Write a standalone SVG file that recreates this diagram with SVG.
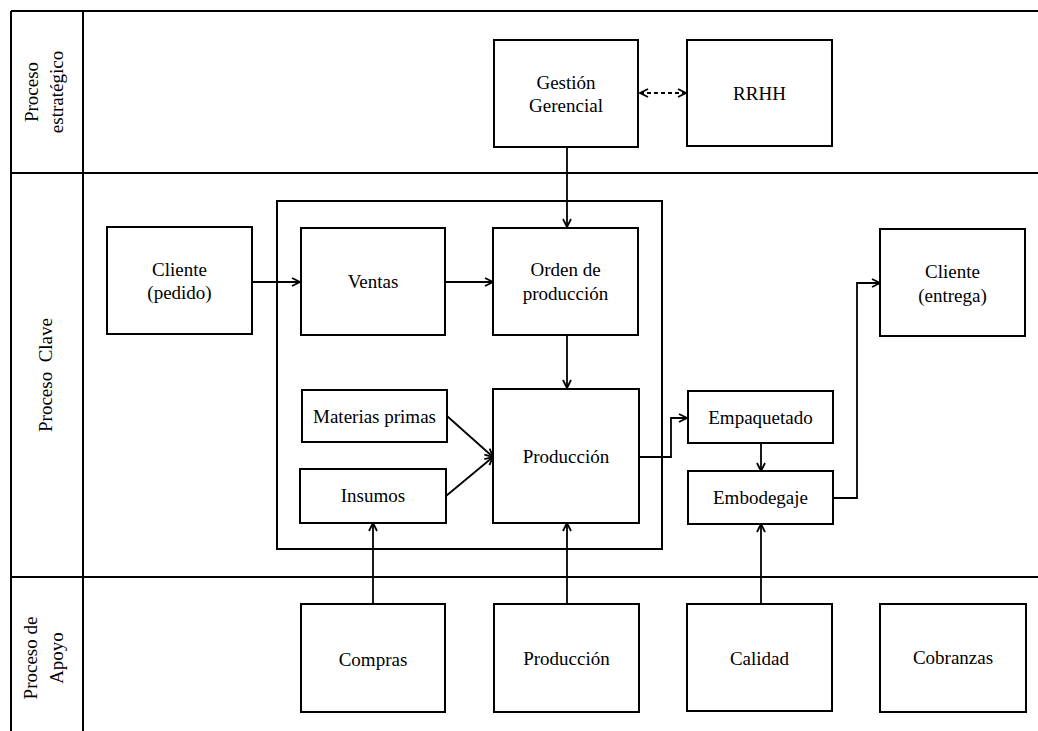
<svg xmlns="http://www.w3.org/2000/svg" width="1038" height="731" viewBox="0 0 1038 731">
  <defs>
    <marker id="arrow" viewBox="0 0 10 10" refX="9" refY="5" markerWidth="10" markerHeight="10" markerUnits="userSpaceOnUse" orient="auto-start-reverse">
      <path d="M1,1 L9,5 L1,9" fill="none" stroke="#000" stroke-width="1.8"/>
    </marker>
    <style>
      .grid { stroke: #000; stroke-width: 2; fill: none; }
      .box { fill: #fff; stroke: #000; stroke-width: 2; }
      .frame { fill: none; stroke: #000; stroke-width: 2; }
      .lbl { font-family: "Liberation Serif", "Times New Roman", serif; font-size: 19px; fill: #000; text-anchor: middle; }
      .edge { fill: none; stroke: #000; stroke-width: 1.8; marker-end: url(#arrow); }
      .dashed { stroke-dasharray: 4 3; marker-start: url(#arrow); }
    </style>
  </defs>

  <rect width="1038" height="731" fill="#fff"/>

  <!-- swimlane grid -->
  <g id="lanes">
    <line class="grid" x1="11" y1="11" x2="1038" y2="11"/>
    <line class="grid" x1="11" y1="173" x2="1038" y2="173"/>
    <line class="grid" x1="11" y1="577" x2="1038" y2="577"/>
    <line class="grid" x1="11" y1="11" x2="11" y2="731"/>
    <line class="grid" x1="83" y1="11" x2="83" y2="731"/>
    <text class="lbl" transform="translate(38,92) rotate(-90)">Proceso</text>
    <text class="lbl" transform="translate(63,92) rotate(-90)">estratégico</text>
    <text class="lbl" transform="translate(52,375) rotate(-90)" xml:space="preserve">Proceso  Clave</text>
    <text class="lbl" transform="translate(37,658) rotate(-90)">Proceso de</text>
    <text class="lbl" transform="translate(63,658) rotate(-90)">Apoyo</text>
  </g>

  <!-- core process frame -->
  <rect id="frame" class="frame" x="277" y="201" width="385" height="348"/>

  <!-- connectors -->
  <g id="connectors">
    <line class="edge dashed" x1="640" y1="93" x2="686" y2="93"/>
    <line class="edge" x1="567" y1="147" x2="567" y2="227"/>
    <line class="edge" x1="252" y1="282" x2="300" y2="282"/>
    <line class="edge" x1="445" y1="282" x2="493" y2="282"/>
    <line class="edge" x1="567" y1="335" x2="567" y2="388"/>
    <line class="edge" x1="447" y1="416" x2="493" y2="457"/>
    <line class="edge" x1="446" y1="496" x2="493" y2="457"/>
    <polyline class="edge" points="639,457 671,457 671,418 687,418"/>
    <line class="edge" x1="761" y1="443" x2="761" y2="471"/>
    <polyline class="edge" points="833,498 857,498 857,283 880,283"/>
    <line class="edge" x1="373" y1="604" x2="373" y2="523"/>
    <line class="edge" x1="567" y1="604" x2="567" y2="523"/>
    <line class="edge" x1="761" y1="604" x2="761" y2="524"/>
  </g>

  <!-- strategic lane -->
  <g id="gestion-gerencial">
    <rect class="box" x="494" y="40" width="144" height="107"/>
    <text class="lbl" x="566" y="89">Gestión</text>
    <text class="lbl" x="566" y="112">Gerencial</text>
  </g>
  <g id="rrhh">
    <rect class="box" x="687" y="40" width="145" height="106"/>
    <text class="lbl" x="759.5" y="100">RRHH</text>
  </g>

  <!-- core lane -->
  <g id="cliente-pedido">
    <rect class="box" x="107" y="227" width="145" height="107"/>
    <text class="lbl" x="179.5" y="276">Cliente</text>
    <text class="lbl" x="179.5" y="299">(pedido)</text>
  </g>
  <g id="ventas">
    <rect class="box" x="301" y="228" width="144" height="107"/>
    <text class="lbl" x="373" y="288">Ventas</text>
  </g>
  <g id="orden-produccion">
    <rect class="box" x="493" y="228" width="145" height="107"/>
    <text class="lbl" x="565.5" y="276">Orden de</text>
    <text class="lbl" x="565.5" y="300">producción</text>
  </g>
  <g id="materias-primas">
    <rect class="box" x="302" y="390" width="145" height="52"/>
    <text class="lbl" x="374.5" y="423">Materias primas</text>
  </g>
  <g id="insumos">
    <rect class="box" x="300" y="469" width="146" height="54"/>
    <text class="lbl" x="373" y="502">Insumos</text>
  </g>
  <g id="produccion">
    <rect class="box" x="493" y="389" width="146" height="134"/>
    <text class="lbl" x="566" y="463">Producción</text>
  </g>
  <g id="empaquetado">
    <rect class="box" x="688" y="391" width="145" height="52"/>
    <text class="lbl" x="760.5" y="424">Empaquetado</text>
  </g>
  <g id="embodegaje">
    <rect class="box" x="688" y="471" width="145" height="53"/>
    <text class="lbl" x="760.5" y="504">Embodegaje</text>
  </g>
  <g id="cliente-entrega">
    <rect class="box" x="880" y="229" width="145" height="107"/>
    <text class="lbl" x="952.5" y="278">Cliente</text>
    <text class="lbl" x="952.5" y="302">(entrega)</text>
  </g>

  <!-- support lane -->
  <g id="compras">
    <rect class="box" x="301" y="604" width="144" height="108"/>
    <text class="lbl" x="373" y="666">Compras</text>
  </g>
  <g id="produccion-apoyo">
    <rect class="box" x="494" y="604" width="145" height="108"/>
    <text class="lbl" x="566.5" y="665">Producción</text>
  </g>
  <g id="calidad">
    <rect class="box" x="687" y="604" width="145" height="107"/>
    <text class="lbl" x="759.5" y="665">Calidad</text>
  </g>
  <g id="cobranzas">
    <rect class="box" x="880" y="604" width="146" height="108"/>
    <text class="lbl" x="953" y="664">Cobranzas</text>
  </g>
</svg>
